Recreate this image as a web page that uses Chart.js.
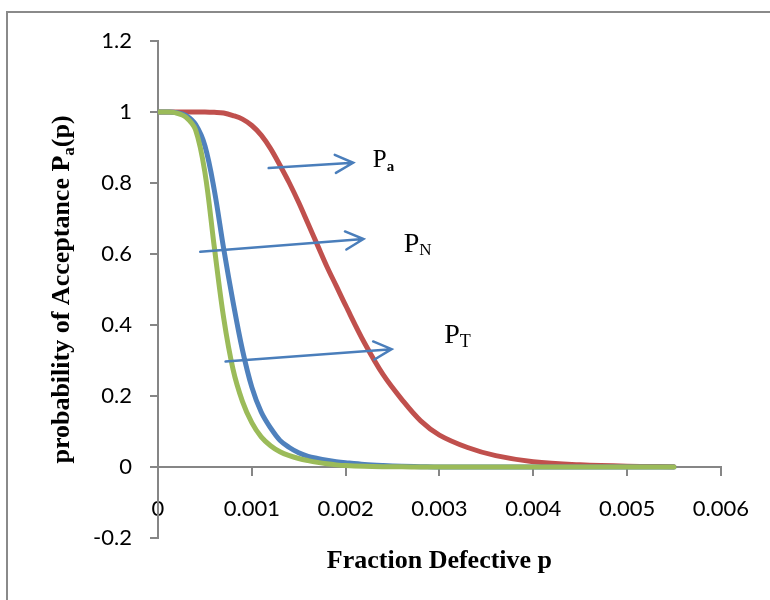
<!DOCTYPE html>
<html>
<head>
<meta charset="utf-8">
<script src="https://cdn.jsdelivr.net/npm/chart.js@4.4.1/dist/chart.umd.min.js"></script>
<style>
html, body { margin:0; padding:0; background:#fff; }
</style>
</head>
<body>
<canvas id="ocChart" width="770" height="600"></canvas>
<script>
// fraction defective p
var fraction = [0, 0.0001, 0.0002, 0.0003, 0.0004, 0.0005, 0.0006, 0.0007, 0.0008, 0.0009,
  0.001, 0.0011, 0.0012, 0.0013, 0.0014, 0.0015, 0.0016, 0.0017, 0.0018, 0.0019,
  0.002, 0.0022, 0.0024, 0.0026, 0.0028, 0.003, 0.0033, 0.0036, 0.004, 0.0045, 0.005, 0.0055];
// Pa (red)
var pa = [1, 1, 1, 1, 1, 1, 0.999, 0.997, 0.99, 0.98,
  0.962, 0.935, 0.897, 0.85, 0.80, 0.745, 0.685, 0.625, 0.565, 0.51,
  0.455, 0.35, 0.26, 0.19, 0.13, 0.09, 0.055, 0.032, 0.015, 0.006, 0.002, 0.001];
// PN (blue)
var pn = [1, 1, 0.998, 0.99, 0.965, 0.905, 0.78, 0.615, 0.465, 0.33,
  0.225, 0.155, 0.11, 0.075, 0.055, 0.04, 0.03, 0.024, 0.019, 0.015,
  0.012, 0.007, 0.004, 0.002, 0.001, 0, 0, 0, 0, 0, 0, 0];
// PT (green)
var pt = [1, 1, 0.997, 0.985, 0.95, 0.83, 0.62, 0.42, 0.275, 0.185,
  0.125, 0.085, 0.06, 0.043, 0.032, 0.024, 0.018, 0.013, 0.009, 0.006,
  0.004, 0.002, 0.001, 0.0005, 0, 0, 0, 0, 0, 0, 0, 0];

var xTicks = [0, 0.001, 0.002, 0.003, 0.004, 0.005, 0.006];
var yTicks = [-0.2, 0, 0.2, 0.4, 0.6, 0.8, 1, 1.2];

// arrows [x0, y0, x1, y1] in data units
var arrows = [
  [0.00118, 0.842, 0.00208, 0.857],
  [0.00045, 0.606, 0.00219, 0.642],
  [0.00072, 0.297, 0.00249, 0.332]
];
// curve labels (P + subscript) in data units
var curveLabels = [
  { sub: "a", x: 0.00229, y: 0.845, size: 25, subSize: 15, subBold: true },
  { sub: "N", x: 0.00262, y: 0.606, size: 28, subSize: 17, subBold: false },
  { sub: "T", x: 0.00305, y: 0.349, size: 28, subSize: 18, subBold: false }
];

function pts(ys) {
  var out = [];
  for (var i = 0; i < fraction.length; i++) out.push({ x: fraction[i], y: ys[i] });
  return out;
}

function line(data, color, ord) {
  return {
    data: pts(data), borderColor: color, backgroundColor: color,
    borderWidth: 5, pointRadius: 0, fill: false, order: ord,
    tension: 0.35,
    borderCapStyle: 'round', borderJoinStyle: 'round'
  };
}

var axisColor = '#868686';
var tickFont = { family: 'Lato', size: 22 };

// frame, arrows, labels, axis titles
var extras = {
  id: 'extras',
  afterDraw: function(chart) {
    var ctx = chart.ctx, xs = chart.scales.x, ys = chart.scales.y, area = chart.chartArea;
    ctx.save();
    ctx.strokeStyle = '#8a8a8a';
    ctx.lineWidth = 2;
    ctx.strokeRect(7, 12, 800, 700);

    // arrows
    ctx.strokeStyle = '#4A7EBB';
    ctx.lineWidth = 2.5;
    ctx.lineCap = 'round';
    arrows.forEach(function(a) {
      var x0 = xs.getPixelForValue(a[0]), y0 = ys.getPixelForValue(a[1]);
      var x1 = xs.getPixelForValue(a[2]), y1 = ys.getPixelForValue(a[3]);
      var ang = Math.atan2(y1 - y0, x1 - x0), L = 20, w = 0.47;
      ctx.beginPath();
      ctx.moveTo(x0, y0); ctx.lineTo(x1, y1);
      ctx.moveTo(x1 - L * Math.cos(ang - w), y1 - L * Math.sin(ang - w));
      ctx.lineTo(x1, y1);
      ctx.lineTo(x1 - L * Math.cos(ang + w), y1 - L * Math.sin(ang + w));
      ctx.stroke();
    });

    // curve labels
    ctx.fillStyle = '#000';
    ctx.textBaseline = 'alphabetic';
    ctx.textAlign = 'left';
    curveLabels.forEach(function(l) {
      var px = xs.getPixelForValue(l.x), py = ys.getPixelForValue(l.y);
      ctx.font = l.size + 'px "Liberation Serif"';
      ctx.fillText('P', px, py);
      var w = ctx.measureText('P').width;
      ctx.font = (l.subBold ? 'bold ' : '') + l.subSize + 'px "Liberation Serif"';
      ctx.fillText(l.sub, px + w, py + 3.5);
    });

    // x title
    ctx.font = 'bold 26px "Liberation Serif"';
    ctx.textAlign = 'center';
    ctx.fillText('Fraction Defective p', (area.left + area.right) / 2, area.bottom + 30);

    // y title with subscript
    ctx.translate(69, (area.top + area.bottom) / 2);
    ctx.rotate(-Math.PI / 2);
    ctx.textAlign = 'left';
    var big = 'bold 26px "Liberation Serif"', small = 'bold 17px "Liberation Serif"';
    var t1 = 'probability of Acceptance P', t2 = 'a', t3 = '(p)';
    ctx.font = big; var w1 = ctx.measureText(t1).width, w3 = ctx.measureText(t3).width;
    ctx.font = small; var w2 = ctx.measureText(t2).width;
    var sx = -(w1 + w2 + w3) / 2;
    ctx.font = big; ctx.fillText(t1, sx, 0);
    ctx.font = small; ctx.fillText(t2, sx + w1, 5);
    ctx.font = big; ctx.fillText(t3, sx + w1 + w2, 0);
    ctx.restore();
  }
};

var ctx = document.getElementById('ocChart');
var chart = new Chart(ctx, {
  type: 'line',
  data: {
    datasets: [
      line(pt, '#9BBB59', 1),
      line(pn, '#4F81BD', 2),
      line(pa, '#C0504D', 3)
    ]
  },
  options: {
    responsive: false,
    animation: false,
    devicePixelRatio: 1,
    layout: { padding: { left: 0, top: 41, right: 48, bottom: 62 } },
    plugins: { legend: { display: false }, tooltip: { enabled: false }, title: { display: false } },
    scales: {
      x: {
        type: 'linear',
        position: { y: 0 },
        min: 0, max: 0.006,
        afterBuildTicks: function(s) { s.ticks = xTicks.map(function(v) { return { value: v }; }); },
        ticks: {
          color: '#000', font: tickFont, padding: 21, maxRotation: 0, autoSkip: false,
          callback: function(v) { return v === 0 ? '0' : Number(v).toFixed(3); }
        },
        grid: { drawOnChartArea: false, drawTicks: true, tickLength: 8, color: axisColor, lineWidth: 2 },
        border: { display: true, color: axisColor, width: 2 }
      },
      y: {
        type: 'linear',
        position: 'left',
        min: -0.2, max: 1.2,
        afterBuildTicks: function(s) { s.ticks = yTicks.map(function(v) { return { value: v }; }); },
        afterFit: function(s) { s.width = 158; },
        ticks: {
          color: '#000', font: tickFont, padding: 18, autoSkip: false,
          callback: function(v) { return String(Math.round(v * 10) / 10); }
        },
        grid: { drawOnChartArea: false, drawTicks: true, tickLength: 8, color: axisColor, lineWidth: 2 },
        border: { display: true, color: axisColor, width: 2 }
      }
    }
  },
  plugins: [extras]
});
</script>
</body>
</html>
